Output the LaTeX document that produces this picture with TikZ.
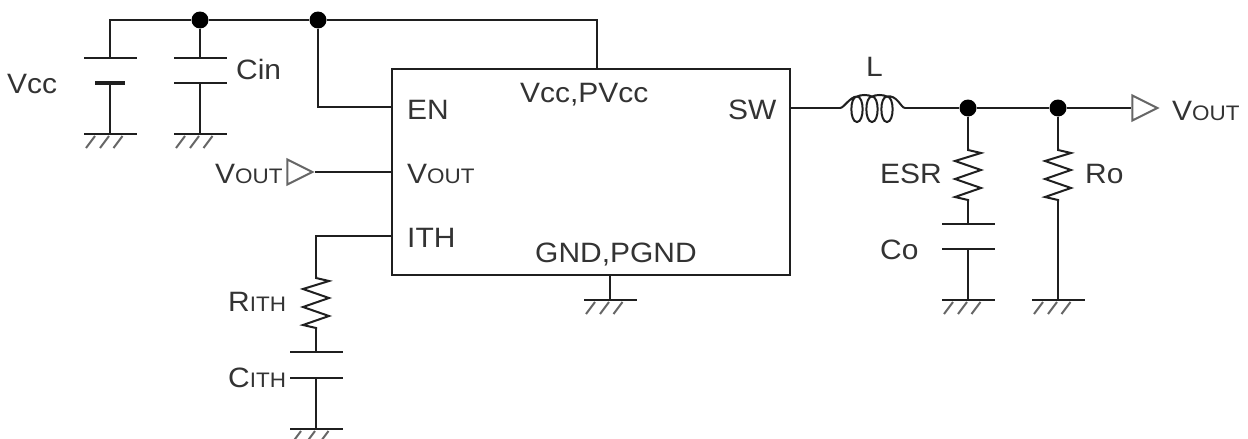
\documentclass[tikz,border=0pt]{standalone}
\usepackage{fontspec}
\setmainfont[FakeStretch=1.07]{Liberation Sans}
\usetikzlibrary{calc}
\usetikzlibrary{shapes.geometric}

\newcommand{\lbl}{\fontsize{28}{30}\selectfont}
\newcommand{\smc}[1]{{\fontsize{21}{23}\selectfont #1}}
\newcommand{\coilloop}{.. controls +(7.5,0) and +(7.5,0) .. ++(0,25.5) .. controls +(-7.5,0) and +(-7.5,0) .. ++(0,-25.5)}
\newcommand{\coilhump}{.. controls +(4,-2) and +(-4,-2) .. ++(15,0)}

\tikzset{
  wire/.style={line width=2pt, draw=black!88},
  txt/.style={inner sep=0, anchor=base west, text=black!80, font=\lbl},
  plate/.style={rectangle, fill=black!88, inner sep=0, minimum width=53pt, minimum height=2pt},
  junction/.style={circle, fill=black, inner sep=0, minimum size=17pt},
  outmark/.style={isosceles triangle, isosceles triangle stretches, draw=black!60, line width=2pt,
    inner sep=0, minimum width=25pt, minimum height=25pt, anchor=apex},
  zigr/.style={to path={-- ++(0,2) -- ++(13,3) -- ++(-26,8) -- ++(26,9) -- ++(-26,9) -- ++(26,9) -- ++(-26,9) -- ++(13,3) -- (\tikztotarget)}},
  coilr/.style={to path={.. controls +(4,0) and +(-7,0) .. ++(17,-11.5) \coilloop \coilhump \coilloop \coilhump \coilloop .. controls +(10,-2) and +(-4,0) .. (\tikztotarget)}},
  hatch/.pic={
    \draw [line width=2pt, draw=black!60] (-15,2) -- (-24,14);
    \draw [line width=2pt, draw=black!60] (-1,2) -- (-10,14);
    \draw [line width=2pt, draw=black!60] (12.5,2) -- (3.5,14);
  }
}

\begin{document}
\begin{tikzpicture}[x=1pt, y=-1pt]
\useasboundingbox (0,0) rectangle (1248,439);
\node [draw=black!88, line width=2pt, minimum width=398pt, minimum height=206pt, inner sep=0] (IC) at (591,172) {};

\node [junction] (railA) at (200,20) {};
\node [junction] (railB) at (318,20) {};
\node [junction] (outA) at (968,108) {};
\node [junction] (outB) at (1058,108) {};

\node [plate] (battP) at (110,58) {};
\node [plate, minimum width=30pt, minimum height=4pt] (battN) at (110,83) {};
\node [plate] (cinT) at (200,58) {};
\node [plate] (cinB) at (200,83) {};
\node [plate] (cithT) at (316,352) {};
\node [plate] (cithB) at (316,378) {};
\node [plate] (coT) at (968,224) {};
\node [plate] (coB) at (968,249) {};

\node [plate] (gndBatt) at (110,134) {};
\node [plate] (gndCin) at (200,134) {};
\node [plate] (gndIC) at (610,300) {};
\node [plate] (gndCith) at (316,429) {};
\node [plate] (gndCo) at (968,300) {};
\node [plate] (gndRo) at (1058,300) {};
\pic at (gndBatt) {hatch};
\pic at (gndCin) {hatch};
\pic at (gndIC) {hatch};
\pic at (gndCith) {hatch};
\pic at (gndCo) {hatch};
\pic at (gndRo) {hatch};

\node [outmark] (inTri) at (315,172) {};
\node [outmark] (outTri) at (1160,108) {};

\coordinate (pinVcc) at (597,69);
\coordinate (pinEN) at (392,107);
\coordinate (pinVout) at (392,172);
\coordinate (pinITH) at (392,236);
\coordinate (pinSW) at (790,108);
\coordinate (pinGND) at (610,275);
\coordinate (railEnd) at (597,20);
\coordinate (lA) at (840,108);
\coordinate (lB) at (905,108);
\coordinate (rithA) at (316,276);
\coordinate (rithB) at (316,327);
\coordinate (esrA) at (968,148);
\coordinate (esrB) at (968,199);
\coordinate (roA) at (1058,148);
\coordinate (roB) at (1058,199);

\draw [wire] (battP) |- (railA);
\draw [wire] (railA) -- (railB);
\draw [wire] (railB) -- (railEnd) -- (pinVcc);
\draw [wire] (railA) -- (cinT);
\draw [wire] (railB) |- (pinEN);
\draw [wire] (battN) -- (gndBatt);
\draw [wire] (cinB) -- (gndCin);
\draw [wire] (inTri.apex) -- (pinVout);
\draw [wire] (pinITH) -| (rithA);
\draw [wire, zigr] (rithA) to (rithB);
\draw [wire] (rithB) -- (cithT);
\draw [wire] (cithB) -- (gndCith);
\draw [wire] (pinGND) -- (gndIC);
\draw [wire] (pinSW) -- (lA);
\draw [wire, coilr] (lA) to (lB);
\draw [wire] (lB) -- (outA);
\draw [wire] (outA) -- (outB);
\draw [wire] (outB) -- (outTri.west);
\draw [wire] (outA) -- (esrA);
\draw [wire, zigr] (esrA) to (esrB);
\draw [wire] (esrB) -- (coT);
\draw [wire] (coB) -- (gndCo);
\draw [wire] (outB) -- (roA);
\draw [wire, zigr] (roA) to (roB);
\draw [wire] (roB) -- (gndRo);

\node [txt] (tVcc) at (7,93) {Vcc};
\node [txt] (tCin) at (236,79) {Cin};
\node [txt] (tEN) at (407,119) {EN};
\node [txt] (tVoutPin) at (407,183) {V\smc{OUT}};
\node [txt] (tITH) at (407,247) {ITH};
\node [txt] (tVccPin) at (520,102) {Vcc,PVcc};
\node [txt] (tSW) at (728,119) {SW};
\node [txt] (tGND) at (535,262) {GND,PGND};
\node [txt] (tVoutIn) at (215,183) {V\smc{OUT}};
\node [txt] (tRith) at (228,311) {R\smc{ITH}};
\node [txt] (tCith) at (228,387) {C\smc{ITH}};
\node [txt] (tL) at (866,76) {L};
\node [txt] (tESR) at (880,183) {ESR};
\node [txt] (tRo) at (1085,183) {Ro};
\node [txt] (tCo) at (880,259) {Co};
\node [txt] (tVoutOut) at (1172,120) {V\smc{OUT}};
\end{tikzpicture}
\end{document}
